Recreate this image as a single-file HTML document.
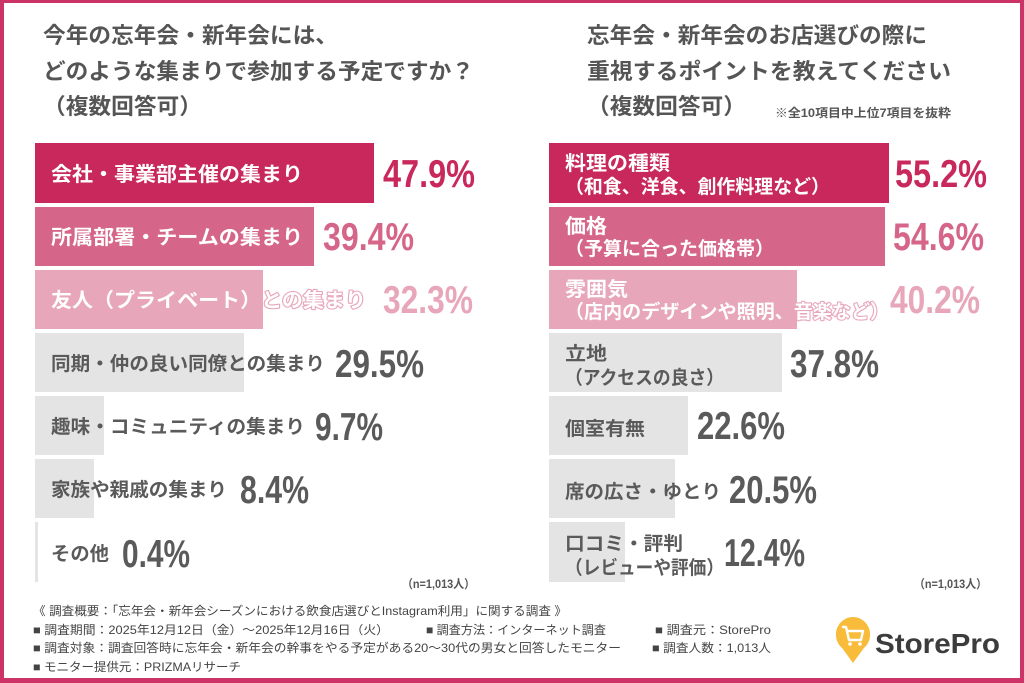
<!DOCTYPE html>
<html><head><meta charset="utf-8">
<style>
html,body{margin:0;padding:0;background:#fff;}
svg{display:block;}
text{font-family:"Liberation Sans","Noto Sans CJK JP",sans-serif;}
.t{font-size:22px;font-weight:700;fill:#555;}
.lw{font-size:20px;font-weight:700;fill:#fff;}
.lg{font-size:19px;font-weight:700;fill:#5a5a5a;}
.pc{font-family:"Liberation Sans",sans-serif;font-size:39px;font-weight:700;}
.ft{font-size:12px;fill:#444;}
.sm{font-size:12px;font-weight:700;fill:#555;}
</style></head>
<body>
<svg width="1024" height="683" viewBox="0 0 1024 683" xmlns="http://www.w3.org/2000/svg">
<rect x="0" y="0" width="1024" height="683" fill="#fff"/>
<!-- frame -->
<rect x="0" y="0" width="1024" height="3" fill="#cc3467"/>
<rect x="0" y="678" width="1024" height="5" fill="#cc3467"/>
<rect x="0" y="0" width="4" height="683" fill="#cc3467"/>
<rect x="1020" y="0" width="4" height="683" fill="#cc3467"/>

<!-- left title -->
<text class="t" x="43" y="43" textLength="295" lengthAdjust="spacingAndGlyphs">今年の忘年会・新年会には、</text>
<text class="t" x="43" y="79" textLength="431" lengthAdjust="spacingAndGlyphs">どのような集まりで参加する予定ですか？</text>
<text class="t" x="43" y="114" textLength="159" lengthAdjust="spacingAndGlyphs">（複数回答可）</text>

<!-- right title -->
<text class="t" x="587" y="43" textLength="340" lengthAdjust="spacingAndGlyphs">忘年会・新年会のお店選びの際に</text>
<text class="t" x="587" y="79" textLength="364" lengthAdjust="spacingAndGlyphs">重視するポイントを教えてください</text>
<text class="t" x="587" y="114" textLength="159" lengthAdjust="spacingAndGlyphs">（複数回答可）</text>
<text class="sm" x="775" y="117" textLength="176" lengthAdjust="spacingAndGlyphs">※全10項目中上位7項目を抜粋</text>

<!-- left bars -->
<rect x="35" y="143" width="339" height="60" fill="#c8285c"/>
<rect x="35" y="207" width="279" height="59" fill="#d5668a"/>
<rect x="35" y="270" width="228" height="59" fill="#e8a6bb"/>
<rect x="35" y="333" width="209" height="59" fill="#e4e4e4"/>
<rect x="35" y="396" width="69" height="59" fill="#e4e4e4"/>
<rect x="35" y="459" width="59" height="59" fill="#e4e4e4"/>
<rect x="35" y="522" width="3" height="60" fill="#e4e4e4"/>

<text class="lw" x="51" y="181" textLength="252" lengthAdjust="spacingAndGlyphs">会社・事業部主催の集まり</text>
<text class="lw" x="51" y="244" textLength="252" lengthAdjust="spacingAndGlyphs">所属部署・チームの集まり</text>
<text class="lw" x="51" y="307" textLength="315" lengthAdjust="spacingAndGlyphs" stroke="#e8a6bb" stroke-width="2.2" paint-order="stroke" stroke-linejoin="round">友人（プライベート）との集まり</text>
<text class="lg" x="51" y="370" textLength="274" lengthAdjust="spacingAndGlyphs">同期・仲の良い同僚との集まり</text>
<text class="lg" x="51" y="433" textLength="254" lengthAdjust="spacingAndGlyphs">趣味・コミュニティの集まり</text>
<text class="lg" x="51" y="496" textLength="176" lengthAdjust="spacingAndGlyphs">家族や親戚の集まり</text>
<text class="lg" x="51" y="560" textLength="58" lengthAdjust="spacingAndGlyphs">その他</text>

<text class="pc" x="383" y="187" fill="#c8285c" textLength="92" lengthAdjust="spacingAndGlyphs">47.9%</text>
<text class="pc" x="323" y="250" fill="#d5668a" textLength="91" lengthAdjust="spacingAndGlyphs">39.4%</text>
<text class="pc" x="383" y="313" fill="#e8a6bb" textLength="90" lengthAdjust="spacingAndGlyphs">32.3%</text>
<text class="pc" x="335" y="377" fill="#5a5a5a" textLength="89" lengthAdjust="spacingAndGlyphs">29.5%</text>
<text class="pc" x="315" y="440" fill="#5a5a5a" textLength="68" lengthAdjust="spacingAndGlyphs">9.7%</text>
<text class="pc" x="240" y="503" fill="#5a5a5a" textLength="69" lengthAdjust="spacingAndGlyphs">8.4%</text>
<text class="pc" x="122" y="567" fill="#5a5a5a" textLength="68" lengthAdjust="spacingAndGlyphs">0.4%</text>

<text class="sm" x="402" y="588" textLength="73" lengthAdjust="spacingAndGlyphs">（n=1,013人）</text>

<!-- right bars -->
<rect x="549" y="143" width="340" height="60" fill="#c8285c"/>
<rect x="549" y="207" width="336" height="59" fill="#d5668a"/>
<rect x="549" y="270" width="248" height="59" fill="#e8a6bb"/>
<rect x="549" y="333" width="233" height="59" fill="#e4e4e4"/>
<rect x="549" y="396" width="139" height="59" fill="#e4e4e4"/>
<rect x="549" y="459" width="126" height="59" fill="#e4e4e4"/>
<rect x="549" y="522" width="76" height="60" fill="#e4e4e4"/>

<text class="lw" x="565" y="170" textLength="105" lengthAdjust="spacingAndGlyphs">料理の種類</text>
<text class="lw" style="font-size:19px" x="565" y="193" textLength="265" lengthAdjust="spacingAndGlyphs">（和食、洋食、創作料理など）</text>
<text class="lw" x="565" y="233" textLength="42" lengthAdjust="spacingAndGlyphs">価格</text>
<text class="lw" style="font-size:19px" x="565" y="255" textLength="209" lengthAdjust="spacingAndGlyphs">（予算に合った価格帯）</text>
<text class="lw" x="565" y="296" textLength="63" lengthAdjust="spacingAndGlyphs">雰囲気</text>
<text class="lw" style="font-size:19px" x="565" y="318" textLength="324" lengthAdjust="spacingAndGlyphs" stroke="#e8a6bb" stroke-width="2.2" paint-order="stroke" stroke-linejoin="round">（店内のデザインや照明、音楽など）</text>
<text class="lg" x="565" y="360" textLength="42" lengthAdjust="spacingAndGlyphs">立地</text>
<text class="lg" x="565" y="384" textLength="159" lengthAdjust="spacingAndGlyphs">（アクセスの良さ）</text>
<text class="lg" x="565" y="435" textLength="80" lengthAdjust="spacingAndGlyphs">個室有無</text>
<text class="lg" x="565" y="498" textLength="156" lengthAdjust="spacingAndGlyphs">席の広さ・ゆとり</text>
<text class="lg" x="565" y="550" textLength="118" lengthAdjust="spacingAndGlyphs">口コミ・評判</text>
<text class="lg" x="565" y="574" textLength="159" lengthAdjust="spacingAndGlyphs">（レビューや評価）</text>

<text class="pc" x="895" y="187" fill="#c8285c" textLength="92" lengthAdjust="spacingAndGlyphs">55.2%</text>
<text class="pc" x="893" y="250" fill="#d5668a" textLength="91" lengthAdjust="spacingAndGlyphs">54.6%</text>
<text class="pc" x="890" y="313" fill="#e8a6bb" textLength="90" lengthAdjust="spacingAndGlyphs">40.2%</text>
<text class="pc" x="790" y="377" fill="#5a5a5a" textLength="89" lengthAdjust="spacingAndGlyphs">37.8%</text>
<text class="pc" x="697" y="439" fill="#5a5a5a" textLength="88" lengthAdjust="spacingAndGlyphs">22.6%</text>
<text class="pc" x="729" y="503" fill="#5a5a5a" textLength="88" lengthAdjust="spacingAndGlyphs">20.5%</text>
<text class="pc" x="724" y="566" fill="#5a5a5a" textLength="81" lengthAdjust="spacingAndGlyphs">12.4%</text>

<text class="sm" x="914" y="588" textLength="73" lengthAdjust="spacingAndGlyphs">（n=1,013人）</text>

<!-- footer -->
<text class="ft" x="33" y="615" textLength="534" lengthAdjust="spacingAndGlyphs">《 調査概要：「忘年会・新年会シーズンにおける飲食店選びとInstagram利用」に関する調査 》</text>
<text class="ft" x="33" y="634" textLength="356" lengthAdjust="spacingAndGlyphs">■ 調査期間：2025年12月12日（金）～2025年12月16日（火）</text>
<text class="ft" x="426" y="634" textLength="180" lengthAdjust="spacingAndGlyphs">■ 調査方法：インターネット調査</text>
<text class="ft" x="655" y="634" textLength="116" lengthAdjust="spacingAndGlyphs">■ 調査元：StorePro</text>
<text class="ft" x="33" y="652" textLength="588" lengthAdjust="spacingAndGlyphs">■ 調査対象：調査回答時に忘年会・新年会の幹事をやる予定がある20～30代の男女と回答したモニター</text>
<text class="ft" x="652" y="652" textLength="119" lengthAdjust="spacingAndGlyphs">■ 調査人数：1,013人</text>
<text class="ft" x="33" y="671" textLength="208" lengthAdjust="spacingAndGlyphs">■ モニター提供元：PRIZMAリサーチ</text>

<!-- logo -->
<path d="M853 663 L840 645 A17 17 0 1 1 866 645 Z" fill="#f8bb3a"/>
<circle cx="853" cy="635" r="17" fill="#f8bb3a"/>
<path d="M843 627 L846 627 L849 640 L861 640 L863 631 L847.5 631" fill="none" stroke="#fff" stroke-width="2.4" stroke-linejoin="round" stroke-linecap="round"/>
<circle cx="850" cy="644" r="1.8" fill="#fff"/>
<circle cx="860" cy="644" r="1.8" fill="#fff"/>
<text x="875" y="653" font-family="Liberation Sans, sans-serif" font-size="28" font-weight="700" fill="#3c3c3c" textLength="125" lengthAdjust="spacingAndGlyphs">StorePro</text>
</svg>
</body></html>
